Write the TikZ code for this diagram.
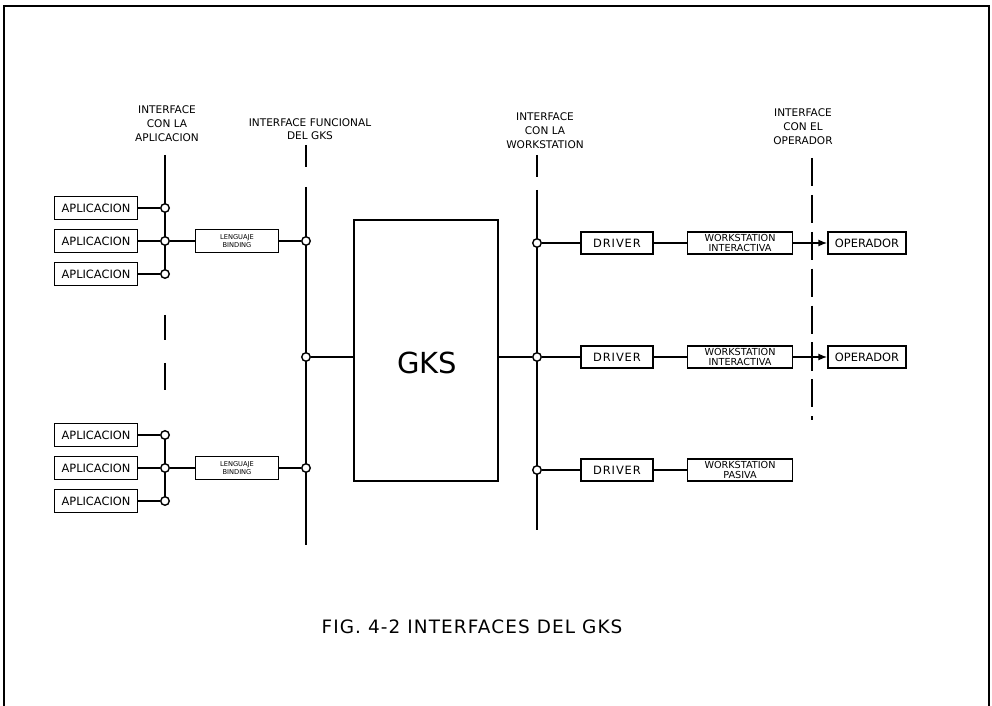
\documentclass[tikz,border=0pt]{standalone}
\usepackage{fontspec}
\setmainfont{DejaVu Sans}
\usetikzlibrary{arrows.meta, positioning}

\begin{document}
\begin{tikzpicture}[
  x=0.02cm, y=-0.02cm,
  font=\fontsize{6.5}{7.5}\selectfont,
  caja/.style={draw=black, line width=0.9pt, align=center, inner sep=0pt,
               minimum width=1.66cm, minimum height=0.46cm},
  enlace/.style={caja, minimum width=1.66cm, font=\fontsize{3.8}{5}\selectfont},
  driver/.style={caja, minimum width=1.44cm, minimum height=0.44cm,
                 font=\addfontfeature{LetterSpace=8}\fontsize{6.5}{7.5}\selectfont},
  estacion/.style={caja, minimum width=2.1cm, minimum height=0.44cm,
                   font=\fontsize{5.5}{5.8}\selectfont},
  operador/.style={caja, minimum width=1.56cm, minimum height=0.44cm},
  nodo/.style={circle, draw=black, fill=white, line width=0.8pt,
               inner sep=0pt, minimum size=0.17cm},
  linea/.style={draw=black, line width=0.9pt},
  interfaz/.style={draw=black, line width=1.1pt},
  trazos/.style={interfaz, dash pattern=on 16pt off 5pt},
  punta/.style={-{Latex[length=5pt,width=4pt]}},
  rotulo/.style={align=center, font=\fontsize{6}{8}\selectfont}
]
\useasboundingbox (0,0) rectangle (992,706);

% marco
\draw[line width=1.3pt] (4,706) -- (4,6) -- (989,6) -- (989,706);

% lineas de interfaz
\draw[interfaz] (165,155) -- (165,275);
\draw[interfaz] (165,315) -- (165,340);
\draw[interfaz] (165,363) -- (165,390);
\draw[interfaz] (165,435) -- (165,501);
\draw[interfaz] (306,145) -- (306,167);
\draw[interfaz] (306,187) -- (306,545);
\draw[interfaz] (537,155) -- (537,177);
\draw[interfaz] (537,190) -- (537,530);
\draw[trazos] (812,158) -- (812,420);

\node[rotulo] (tapl) at (167,124) {INTERFACE\\CON LA\\APLICACION};
\node[rotulo, font=\fontsize{6}{7.5}\selectfont] (tfun) at (310,129)
  {INTERFACE FUNCIONAL\\DEL GKS};
\node[rotulo] (tws) at (545,131) {INTERFACE\\CON LA\\WORKSTATION};
\node[rotulo] (top) at (803,127) {INTERFACE\\CON EL\\OPERADOR};

% aplicaciones
\foreach \g/\y in {A/241, B/468} {
  \node[caja] (a\g1) at (96,{\y-33}) {APLICACION};
  \node[caja] (a\g2) at (96,\y)      {APLICACION};
  \node[caja] (a\g3) at (96,{\y+33}) {APLICACION};
  \node[nodo] (n\g1) at (165,{\y-33}) {};
  \node[nodo] (n\g2) at (165,\y) {};
  \node[nodo] (n\g3) at (165,{\y+33}) {};
  \node[enlace] (l\g) at (237,\y) {LENGUAJE\\BINDING};
  \node[nodo] (f\g) at (306,\y) {};
  \draw[linea] (a\g1) -- (n\g1);
  \draw[linea] (a\g3) -- (n\g3);
  \draw[linea] (a\g2) -- (n\g2) -- (l\g) -- (f\g);
}

% GKS
\node[caja, line width=1.1pt, minimum width=2.88cm, minimum height=5.22cm]
  (gks) at (426,350.5) {};
\node[font=\fontsize{16.5}{18}\selectfont] (gkstxt) at (427,363) {GKS};
\node[nodo] (fC) at (306,357) {};
\draw[linea] (fC) -- (fC -| gks.west);

% estaciones de trabajo
\foreach \r/\y/\tipo in {1/243/INTERACTIVA, 2/357/INTERACTIVA, 3/470/PASIVA} {
  \node[nodo] (w\r) at (537,\y) {};
  \node[driver] (d\r) at (617,\y) {DRIVER};
  \node[estacion] (s\r) at (740,\y) {WORKSTATION\\\tipo};
  \draw[linea] (w\r) -- (d\r) -- (s\r);
}
\draw[linea] (gks.east |- w2) -- (w2);

% operadores
\foreach \r in {1,2} {
  \node[operador] (o\r) at (867,0 |- s\r) {OPERADOR};
  \draw[linea, punta] (s\r) -- (o\r);
}

% pie
\node[font=\addfontfeature{LetterSpace=6}\fontsize{10.5}{12}\selectfont] (pie)
  at (472,627) {FIG. 4-2 INTERFACES DEL GKS};

\end{tikzpicture}
\end{document}
